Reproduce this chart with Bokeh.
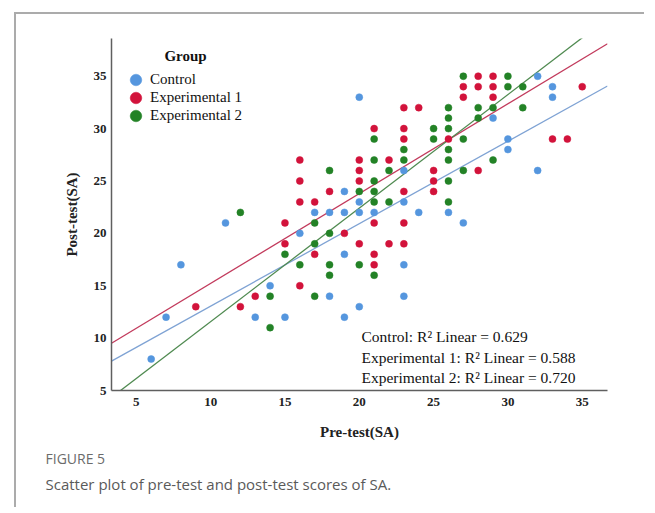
from bokeh.plotting import figure
from bokeh.models import Range1d, Label, Legend, LegendItem, FixedTicker, Title
from bokeh.embed import file_html
from bokeh.resources import INLINE

# ---- data ----
control_pre = [20, 23, 19, 20, 23, 17, 18, 19, 20, 21, 24, 26, 16, 19, 23, 18, 23, 20, 15, 19,
               32, 33, 33, 29, 30, 30, 32, 27, 11, 8, 14, 7, 13, 6]
control_post = [33, 26, 24, 23, 23, 22, 22, 22, 22, 22, 22, 22, 20, 18, 17, 14, 14, 13, 12, 12,
                35, 34, 33, 31, 29, 28, 26, 21, 21, 17, 15, 12, 12, 8]

exp1_pre = [23, 24, 21, 23, 23, 16, 20, 22, 20, 25, 16, 20, 25, 18, 23, 25, 16, 17, 15, 21,
            23, 19, 15, 20, 22, 23, 17, 21, 21, 16, 13, 9, 12, 28, 29, 27, 28, 29, 35, 27,
            29, 26, 33, 34, 28]
exp1_post = [32, 32, 30, 30, 29, 27, 27, 27, 26, 26, 25, 25, 25, 24, 24, 24, 23, 23, 21, 21,
             21, 20, 19, 19, 19, 19, 18, 18, 17, 15, 14, 13, 13, 35, 35, 34, 34, 34, 34, 33,
             33, 29, 29, 29, 26]

exp2_pre = [26, 26, 25, 26, 21, 25, 23, 26, 21, 23, 26, 18, 22, 21, 26, 20, 21, 21, 22, 26,
            17, 27, 30, 30, 31, 28, 29, 31, 28, 27, 29, 27, 12, 14, 14, 18, 17, 15, 16, 18,
            20, 18, 21, 17]
exp2_post = [32, 31, 30, 30, 29, 29, 28, 28, 27, 27, 27, 26, 26, 25, 25, 24, 24, 23, 23, 23,
             21, 35, 35, 34, 34, 32, 32, 32, 31, 29, 27, 26, 22, 14, 11, 20, 19, 18, 17, 17,
             17, 16, 16, 14]

groups = ["Control", "Experimental 1", "Experimental 2"]
r2_values = ["0.629", "0.588", "0.720"]
# linear fit lines as drawn in the reference (slope, intercept)
fit_slopes = [0.787, 0.857, 1.084]
fit_intercepts = [5.18, 6.65, 0.73]
x_ticks = [5, 10, 15, 20, 25, 30, 35]
y_ticks = [5, 10, 15, 20, 25, 30, 35]

dot_colors = ["#5596DE", "#D2133B", "#238226"]
line_colors = ["#7FA3D4", "#C23A5C", "#4F8A50"]

SERIF = "Liberation Serif"

X0, X1 = 3.33, 36.7
Y0, Y1 = 5, 38.6

p = figure(width=630, height=495, output_backend="svg", toolbar_location=None,
           x_range=Range1d(X0, X1), y_range=Range1d(Y0, Y1),
           min_border_left=95, min_border_right=39, min_border_top=24, min_border_bottom=119,
           margin=(12, 0, 0, 14),
           styles={"border-top": "2px solid #ababab", "border-left": "2px solid #ababab"})
p.grid.visible = False
p.outline_line_color = None
p.background_fill_color = "white"
p.border_fill_color = "white"

for ax in (p.xaxis[0], p.yaxis[0]):
    ax.major_tick_in = 0
    ax.major_tick_out = 0
    ax.minor_tick_in = 0
    ax.minor_tick_out = 0
    ax.axis_line_color = "#5f5f5f"
    ax.axis_line_width = 1.5
    ax.major_label_text_font = SERIF
    ax.major_label_text_font_style = "bold"
    ax.major_label_text_font_size = "13px"
    ax.major_label_text_color = "#222222"
    ax.axis_label_text_font = SERIF
    ax.axis_label_text_font_style = "bold"
    ax.axis_label_text_font_size = "15px"
    ax.axis_label_text_color = "#222222"

p.xaxis[0].ticker = FixedTicker(ticks=x_ticks)
p.yaxis[0].ticker = FixedTicker(ticks=y_ticks)
p.xaxis[0].axis_label = "Pre-test(SA)"
p.yaxis[0].axis_label = "Post-test(SA)"
p.xaxis[0].major_label_standoff = 7
p.xaxis[0].axis_label_standoff = 15
p.yaxis[0].major_label_standoff = 5
p.yaxis[0].axis_label_standoff = 11

series = [(control_pre, control_post), (exp1_pre, exp1_post), (exp2_pre, exp2_post)]

# fit lines first (under the dots)
xs_line = [X0, X1]
for b, a, lc in zip(fit_slopes, fit_intercepts, line_colors):
    p.line(xs_line, [a + b * xv for xv in xs_line], line_color=lc, line_width=1.3)

renderers = []
for (xv, yv), dc in zip(series, dot_colors):
    r = p.scatter(xv, yv, size=7, fill_color=dc, line_color=dc, line_width=0.5)
    renderers.append(r)

# one small legend per group so rows can sit closer than the glyph box
for i, (g, r) in enumerate(zip(groups, renderers)):
    yc = 311 - 18 * i  # centre of the row, px above the frame bottom
    lg = Legend(items=[LegendItem(label=g, renderers=[r])],
                location=(10, yc - 16.5), glyph_width=29, glyph_height=33, label_height=18,
                spacing=0, label_standoff=0, padding=0, margin=0,
                border_line_color=None, background_fill_alpha=0,
                label_text_font=SERIF, label_text_font_size="15px", label_text_color="#111111")
    p.add_layout(lg, "center")

p.add_layout(Label(x=74, y=335, x_units="screen", y_units="screen", text="Group",
                   text_align="center", text_baseline="middle", text_font=SERIF,
                   text_font_style="bold", text_font_size="15px", text_color="#111111"))

for i, (g, r2) in enumerate(zip(groups, r2_values)):
    p.add_layout(Label(x=250, y=54 - 20.5 * i, x_units="screen", y_units="screen",
                       text=f"{g}: R\u00b2 Linear = {r2}", text_align="left",
                       text_baseline="middle", text_font=SERIF, text_font_size="15.5px",
                       text_color="#111111"))

p.add_layout(Title(text="FIGURE 5", align="left", offset=-66, standoff=9,
                   text_font="Open Sans", text_font_size="14px", text_font_style="normal",
                   text_color="#6b6b6b"), "below")
p.add_layout(Title(text="Scatter plot of pre-test and post-test scores of SA.", align="left",
                   offset=-66, standoff=-2, text_font="Open Sans", text_font_size="15px",
                   text_font_style="normal", text_color="#5a5a5a"), "below")

open("out.html", "w").write(file_html(p, INLINE))
